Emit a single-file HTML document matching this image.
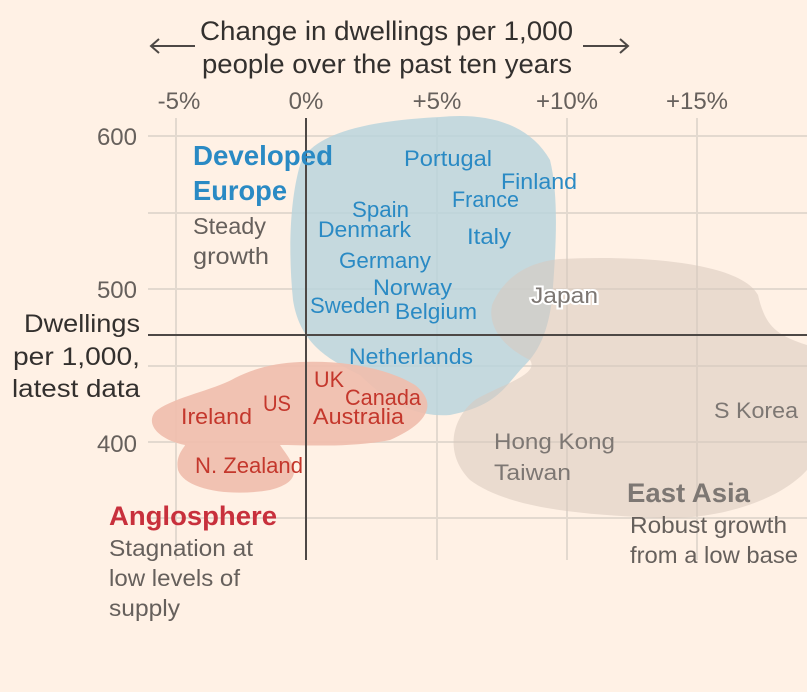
<!DOCTYPE html>
<html><head><meta charset="utf-8"><style>
html,body{margin:0;padding:0;background:#fff1e5;}
svg{display:block;font-family:"Liberation Sans",sans-serif;}
.t{fill:#33302e;font-size:27px;}
.tk{fill:#66605c;font-size:24px;}
.c{font-size:22px;}
.b{fill:#2a8ac4;}
.r{fill:#c4372c;}
.g{fill:#7d7773;}
.s{fill:#66605c;font-size:23px;}
.grid{stroke:#e3d9cf;stroke-width:2;}
</style></head><body>
<svg width="807" height="692" viewBox="0 0 807 692">
<rect width="807" height="692" fill="#fff1e5"/>
<g class="grid">
<line x1="148" y1="136" x2="807" y2="136"/>
<line x1="148" y1="213" x2="807" y2="213"/>
<line x1="148" y1="289" x2="807" y2="289"/>
<line x1="148" y1="366" x2="807" y2="366"/>
<line x1="148" y1="442" x2="807" y2="442"/>
<line x1="148" y1="518" x2="807" y2="518"/>
<line x1="176" y1="118" x2="176" y2="560"/>
<line x1="437" y1="118" x2="437" y2="560"/>
<line x1="567" y1="118" x2="567" y2="560"/>
<line x1="697" y1="118" x2="697" y2="560"/>
</g>
<path d="M440,117 C490,112 530,125 550,160 C560,200 555,260 552,300 C548,330 540,350 525,365 C505,385 500,405 450,415 C410,418 380,395 360,375 C330,360 300,345 293,300 C288,250 290,200 300,165 C312,130 380,120 440,117 Z" fill="#b7d3dc" opacity="0.8"/>
<path d="M560,259 C640,255 740,262 758,295 C765,325 775,335 807,345 L807,470 C780,500 720,520 660,518 C590,515 510,510 470,480 C445,455 450,420 475,400 C500,385 540,375 530,360 C500,345 488,325 492,305 C505,275 530,262 560,259 Z" fill="#d9c9bd" opacity="0.55"/>
<path d="M300,362 C350,360 390,370 415,385 C440,405 425,425 390,440 C350,448 300,445 280,445 C290,460 310,480 270,490 C230,497 185,490 178,470 C175,455 185,447 185,445 C160,440 145,425 155,412 C170,398 215,390 235,378 C255,368 275,363 300,362 Z" fill="#f0bcac" opacity="0.9"/>
<line x1="306" y1="118" x2="306" y2="560" stroke="#4d4845" stroke-width="2"/>
<line x1="148" y1="335" x2="807" y2="335" stroke="#4d4845" stroke-width="2"/>
<text class="t" x="200" y="40" textLength="373" lengthAdjust="spacingAndGlyphs">Change in dwellings per 1,000</text>
<text class="t" x="202" y="73" textLength="370" lengthAdjust="spacingAndGlyphs">people over the past ten years</text>
<g stroke="#4d4845" stroke-width="2" fill="none">
<line x1="151" y1="46" x2="195" y2="46"/><polyline points="159,39 151,46 159,53"/>
<line x1="583" y1="46" x2="628" y2="46"/><polyline points="620,39 628,46 620,53"/>
</g>
<g class="tk" text-anchor="middle">
<text x="179" y="109">-5%</text><text x="306" y="109">0%</text><text x="437" y="109">+5%</text><text x="567" y="109">+10%</text><text x="697" y="109">+15%</text>
</g>
<g class="tk" text-anchor="end">
<text x="137" y="145">600</text><text x="137" y="298">500</text><text x="137" y="452">400</text>
</g>
<g class="t" style="font-size:25px">
<text x="24" y="332" textLength="116" lengthAdjust="spacingAndGlyphs">Dwellings</text>
<text x="13" y="365" textLength="127" lengthAdjust="spacingAndGlyphs">per 1,000,</text>
<text x="12" y="397" textLength="128" lengthAdjust="spacingAndGlyphs">latest data</text>
</g>
<text x="193" y="165" class="b" style="font-size:28px;font-weight:bold" textLength="140" lengthAdjust="spacingAndGlyphs">Developed</text>
<text x="193" y="200" class="b" style="font-size:28px;font-weight:bold" textLength="94" lengthAdjust="spacingAndGlyphs">Europe</text>
<text x="193" y="234" class="s" textLength="73" lengthAdjust="spacingAndGlyphs">Steady</text>
<text x="193" y="264" class="s" textLength="76" lengthAdjust="spacingAndGlyphs">growth</text>
<text x="109" y="525" style="font-size:27px;font-weight:bold;fill:#c8303c" textLength="168" lengthAdjust="spacingAndGlyphs">Anglosphere</text>
<text x="109" y="556" class="s" textLength="144" lengthAdjust="spacingAndGlyphs">Stagnation at</text>
<text x="109" y="586" class="s" textLength="131" lengthAdjust="spacingAndGlyphs">low levels of</text>
<text x="109" y="616" class="s" textLength="71" lengthAdjust="spacingAndGlyphs">supply</text>
<text x="627" y="502" class="g" style="font-size:27px;font-weight:bold" textLength="123" lengthAdjust="spacingAndGlyphs">East Asia</text>
<text x="630" y="533" class="s" textLength="157" lengthAdjust="spacingAndGlyphs">Robust growth</text>
<text x="630" y="563" class="s" textLength="168" lengthAdjust="spacingAndGlyphs">from a low base</text>
<g class="c b" lengthAdjust="spacingAndGlyphs">
<text x="404" y="166" textLength="88" lengthAdjust="spacingAndGlyphs">Portugal</text>
<text x="501" y="189" textLength="76" lengthAdjust="spacingAndGlyphs">Finland</text>
<text x="452" y="207" textLength="67" lengthAdjust="spacingAndGlyphs">France</text>
<text x="352" y="217" textLength="57" lengthAdjust="spacingAndGlyphs">Spain</text>
<text x="318" y="237" textLength="93" lengthAdjust="spacingAndGlyphs">Denmark</text>
<text x="467" y="244" textLength="44" lengthAdjust="spacingAndGlyphs">Italy</text>
<text x="339" y="268" textLength="92" lengthAdjust="spacingAndGlyphs">Germany</text>
<text x="373" y="295" textLength="79" lengthAdjust="spacingAndGlyphs">Norway</text>
<text x="310" y="313" textLength="80" lengthAdjust="spacingAndGlyphs">Sweden</text>
<text x="395" y="319" textLength="82" lengthAdjust="spacingAndGlyphs">Belgium</text>
<text x="349" y="364" textLength="124" lengthAdjust="spacingAndGlyphs">Netherlands</text>
</g>
<text x="531" y="303" class="c g" textLength="67" lengthAdjust="spacingAndGlyphs" stroke="#fff" stroke-width="4" paint-order="stroke">Japan</text>
<g class="c r">
<text x="314" y="387" textLength="30" lengthAdjust="spacingAndGlyphs">UK</text>
<text x="345" y="405" textLength="76" lengthAdjust="spacingAndGlyphs">Canada</text>
<text x="263" y="411" textLength="28" lengthAdjust="spacingAndGlyphs">US</text>
<text x="181" y="424" textLength="71" lengthAdjust="spacingAndGlyphs">Ireland</text>
<text x="313" y="424" textLength="91" lengthAdjust="spacingAndGlyphs">Australia</text>
<text x="195" y="473" textLength="108" lengthAdjust="spacingAndGlyphs">N. Zealand</text>
</g>
<g class="c g">
<text x="714" y="418" textLength="84" lengthAdjust="spacingAndGlyphs">S Korea</text>
<text x="494" y="449" textLength="121" lengthAdjust="spacingAndGlyphs">Hong Kong</text>
<text x="494" y="480" textLength="77" lengthAdjust="spacingAndGlyphs">Taiwan</text>
</g>
</svg>
</body></html>
